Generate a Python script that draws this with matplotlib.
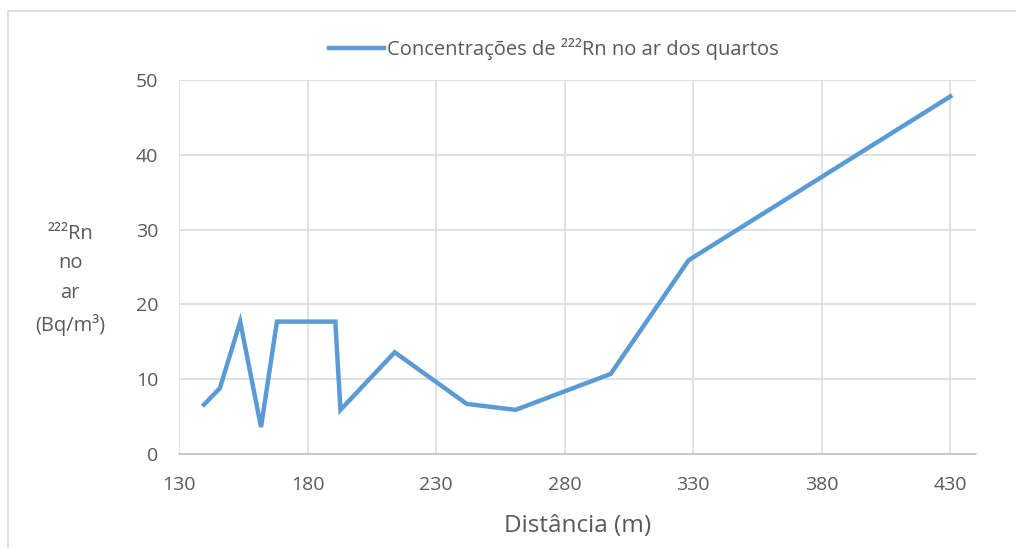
import matplotlib.pyplot as plt
from matplotlib.lines import Line2D

distancia = [139.7, 145.9, 153.8, 161.9, 168.1, 190.8, 192.8, 213.9,
             241.9, 260.9, 297.9, 328.2, 430.0]
radon = [6.6, 8.8, 17.7, 3.6, 17.7, 17.7, 5.9, 13.6,
         6.7, 5.9, 10.7, 25.9, 47.8]
xticks = [130, 180, 230, 280, 330, 380, 430]
yticks = [0, 10, 20, 30, 40, 50]

plt.rcParams['font.family'] = ['Open Sans', 'DejaVu Sans']
cinza = '#595959'

fig = plt.figure(figsize=(10.16, 5.48), dpi=100)
ax = fig.add_axes([179/1016, 1 - 454/548, (976-179)/1016, (454-80)/548])

ax.plot(distancia, radon, color='#5B9BD5', lw=3.2, solid_joinstyle='miter',
        label='Concentrações de ²²²Rn no ar dos quartos', zorder=3)

ax.set_xlim(130, 440)
ax.set_ylim(0, 50)
ax.set_xticks(xticks)
ax.set_yticks(yticks)
ax.grid(True, color='#D9D9D9', lw=1.1)
ax.set_axisbelow(True)
for s in ['top', 'right', 'left']:
    ax.spines[s].set_visible(False)
ax.spines['bottom'].set_color('#BFBFBF')
ax.spines['bottom'].set_linewidth(1.1)
ax.tick_params(length=0, labelsize=14, colors=cinza)
ax.tick_params(axis='y', pad=15)
ax.tick_params(axis='x', pad=16)

ax.set_xlabel('Distância (m)', fontsize=17.5, color=cinza, labelpad=14)
fig.text(70/1016, 1 - 280/548, '²²²Rn\nno\nar\n(Bq/m³)', ha='center', va='center',
         fontsize=14.5, color=cinza, linespacing=1.65)

fig.legend(loc='center', bbox_to_anchor=(554/1016, 1 - 49/548), frameon=False,
           fontsize=14.5, labelcolor=cinza, handlelength=2.7, handletextpad=0.15)

# moldura do gráfico
fig.add_artist(Line2D([8/1016, 8/1016, 1], [0, 1 - 11/548, 1 - 11/548],
                      transform=fig.transFigure, color='#D9D9D9', lw=1.2))

fig.savefig('out.png', dpi=100)
